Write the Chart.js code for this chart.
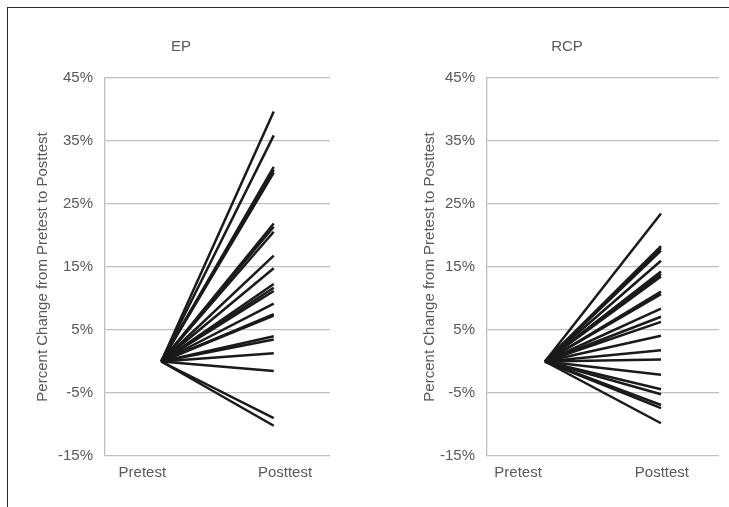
<!DOCTYPE html>
<html>
<head>
<meta charset="utf-8">
<script src="https://cdn.jsdelivr.net/npm/chart.js@4.4.1/dist/chart.umd.min.js"></script>
<style>
  html, body { margin: 0; padding: 0; background: #fff; }
  #wrap { position: relative; width: 729px; height: 507px; overflow: hidden; background: #fff; }
  #frame { position: absolute; left: 7px; top: 7px; width: 740px; height: 520px; border: 1.5px solid #2b2b2b; box-sizing: border-box; }
  #c1box { position: absolute; left: 32px; top: 0; width: 298px; height: 507px; }
  #c2box { position: absolute; left: 415px; top: 0; width: 314px; height: 507px; }
</style>
</head>
<body>
<div id="wrap">
  <div id="frame"></div>
  <div id="c1box"><canvas id="c1"></canvas></div>
  <div id="c2box"><canvas id="c2"></canvas></div>
</div>
<script>
// ---- data ----
const categories = ['Pretest', 'Posttest'];
const yTicks = [-15, -5, 5, 15, 25, 35, 45];
const pretestValue = 0; // every participant starts at 0% change
const epPosttest = [39.7, 35.9, 30.9, 30.4, 30.0, 21.9, 21.4, 20.6, 16.8, 14.8, 12.3, 11.7, 11.2, 9.2, 7.5, 7.3, 4.0, 3.5, 1.3, -1.5, -9.0, -10.2];
const rcpPosttest = [23.5, 18.3, 18.0, 17.6, 16.0, 14.3, 13.9, 13.5, 11.1, 10.7, 8.4, 7.1, 6.3, 4.1, 1.8, 0.3, -2.1, -4.4, -5.2, -6.9, -7.4, -9.8];

const gray = '#595959';
const gridGray = '#bfbfbf';
const font = 'Liberation Sans, Arial, sans-serif';

function makeChart(id, title, post, opts) {
  const datasets = post.map(v => ({
    data: [pretestValue, v],
    borderColor: '#1a1a1a',
    borderWidth: 2.5,
    pointRadius: 0,
    fill: false,
    tension: 0
  }));
  return new Chart(document.getElementById(id), {
    type: 'line',
    data: { labels: categories, datasets },
    options: {
      responsive: true,
      maintainAspectRatio: false,
      animation: false,
      events: [],
      layout: { padding: { left: 0, right: opts.padRight, top: 0, bottom: 0 } },
      plugins: {
        legend: { display: false },
        tooltip: { enabled: false },
        title: {
          display: true,
          text: title,
          color: gray,
          font: { family: font, size: 15, weight: 'normal', lineHeight: 1.2 },
          padding: { top: 38, bottom: 22 }
        }
      },
      scales: {
        x: {
          type: 'category',
          offset: true,
          display: false
        },
        xLabels: {
          type: 'linear',
          position: 'bottom',
          min: 0, max: 1,
          afterBuildTicks: s => { s.ticks = opts.labelPos.map(v => ({ value: v })); },
          grid: { display: false, drawTicks: false },
          border: { display: false },
          ticks: {
            color: gray, font: { family: font, size: 15 }, padding: 8,
            autoSkip: false, maxRotation: 0,
            callback: (v, i) => categories[i]
          },
          afterFit: s => { s.height = 51; }
        },
        y: {
          min: -15, max: 45,
          afterBuildTicks: s => { s.ticks = yTicks.map(v => ({ value: v })); },
          grid: { color: gridGray, lineWidth: 1.3, drawTicks: false },
          border: { display: true, color: gridGray, width: 1.3 },
          ticks: { color: gray, font: { family: font, size: 15 }, padding: 12, callback: v => v + '%' },
          title: {
            display: true,
            text: 'Percent Change from Pretest to Posttest',
            color: gray,
            font: { family: font, size: 15, lineHeight: 1.2 },
            padding: { top: opts.titlePad, bottom: 0 }
          },
          afterFit: s => { s.width = opts.yWidth; }
        }
      }
    }
  });
}

makeChart('c1', 'EP', epPosttest, { padRight: 0, yWidth: 73, titlePad: 2, labelPos: [0.166, 0.80] });
makeChart('c2', 'RCP', rcpPosttest, { padRight: 10, yWidth: 72, titlePad: 6, labelPos: [0.134, 0.754] });
</script>
</body>
</html>
